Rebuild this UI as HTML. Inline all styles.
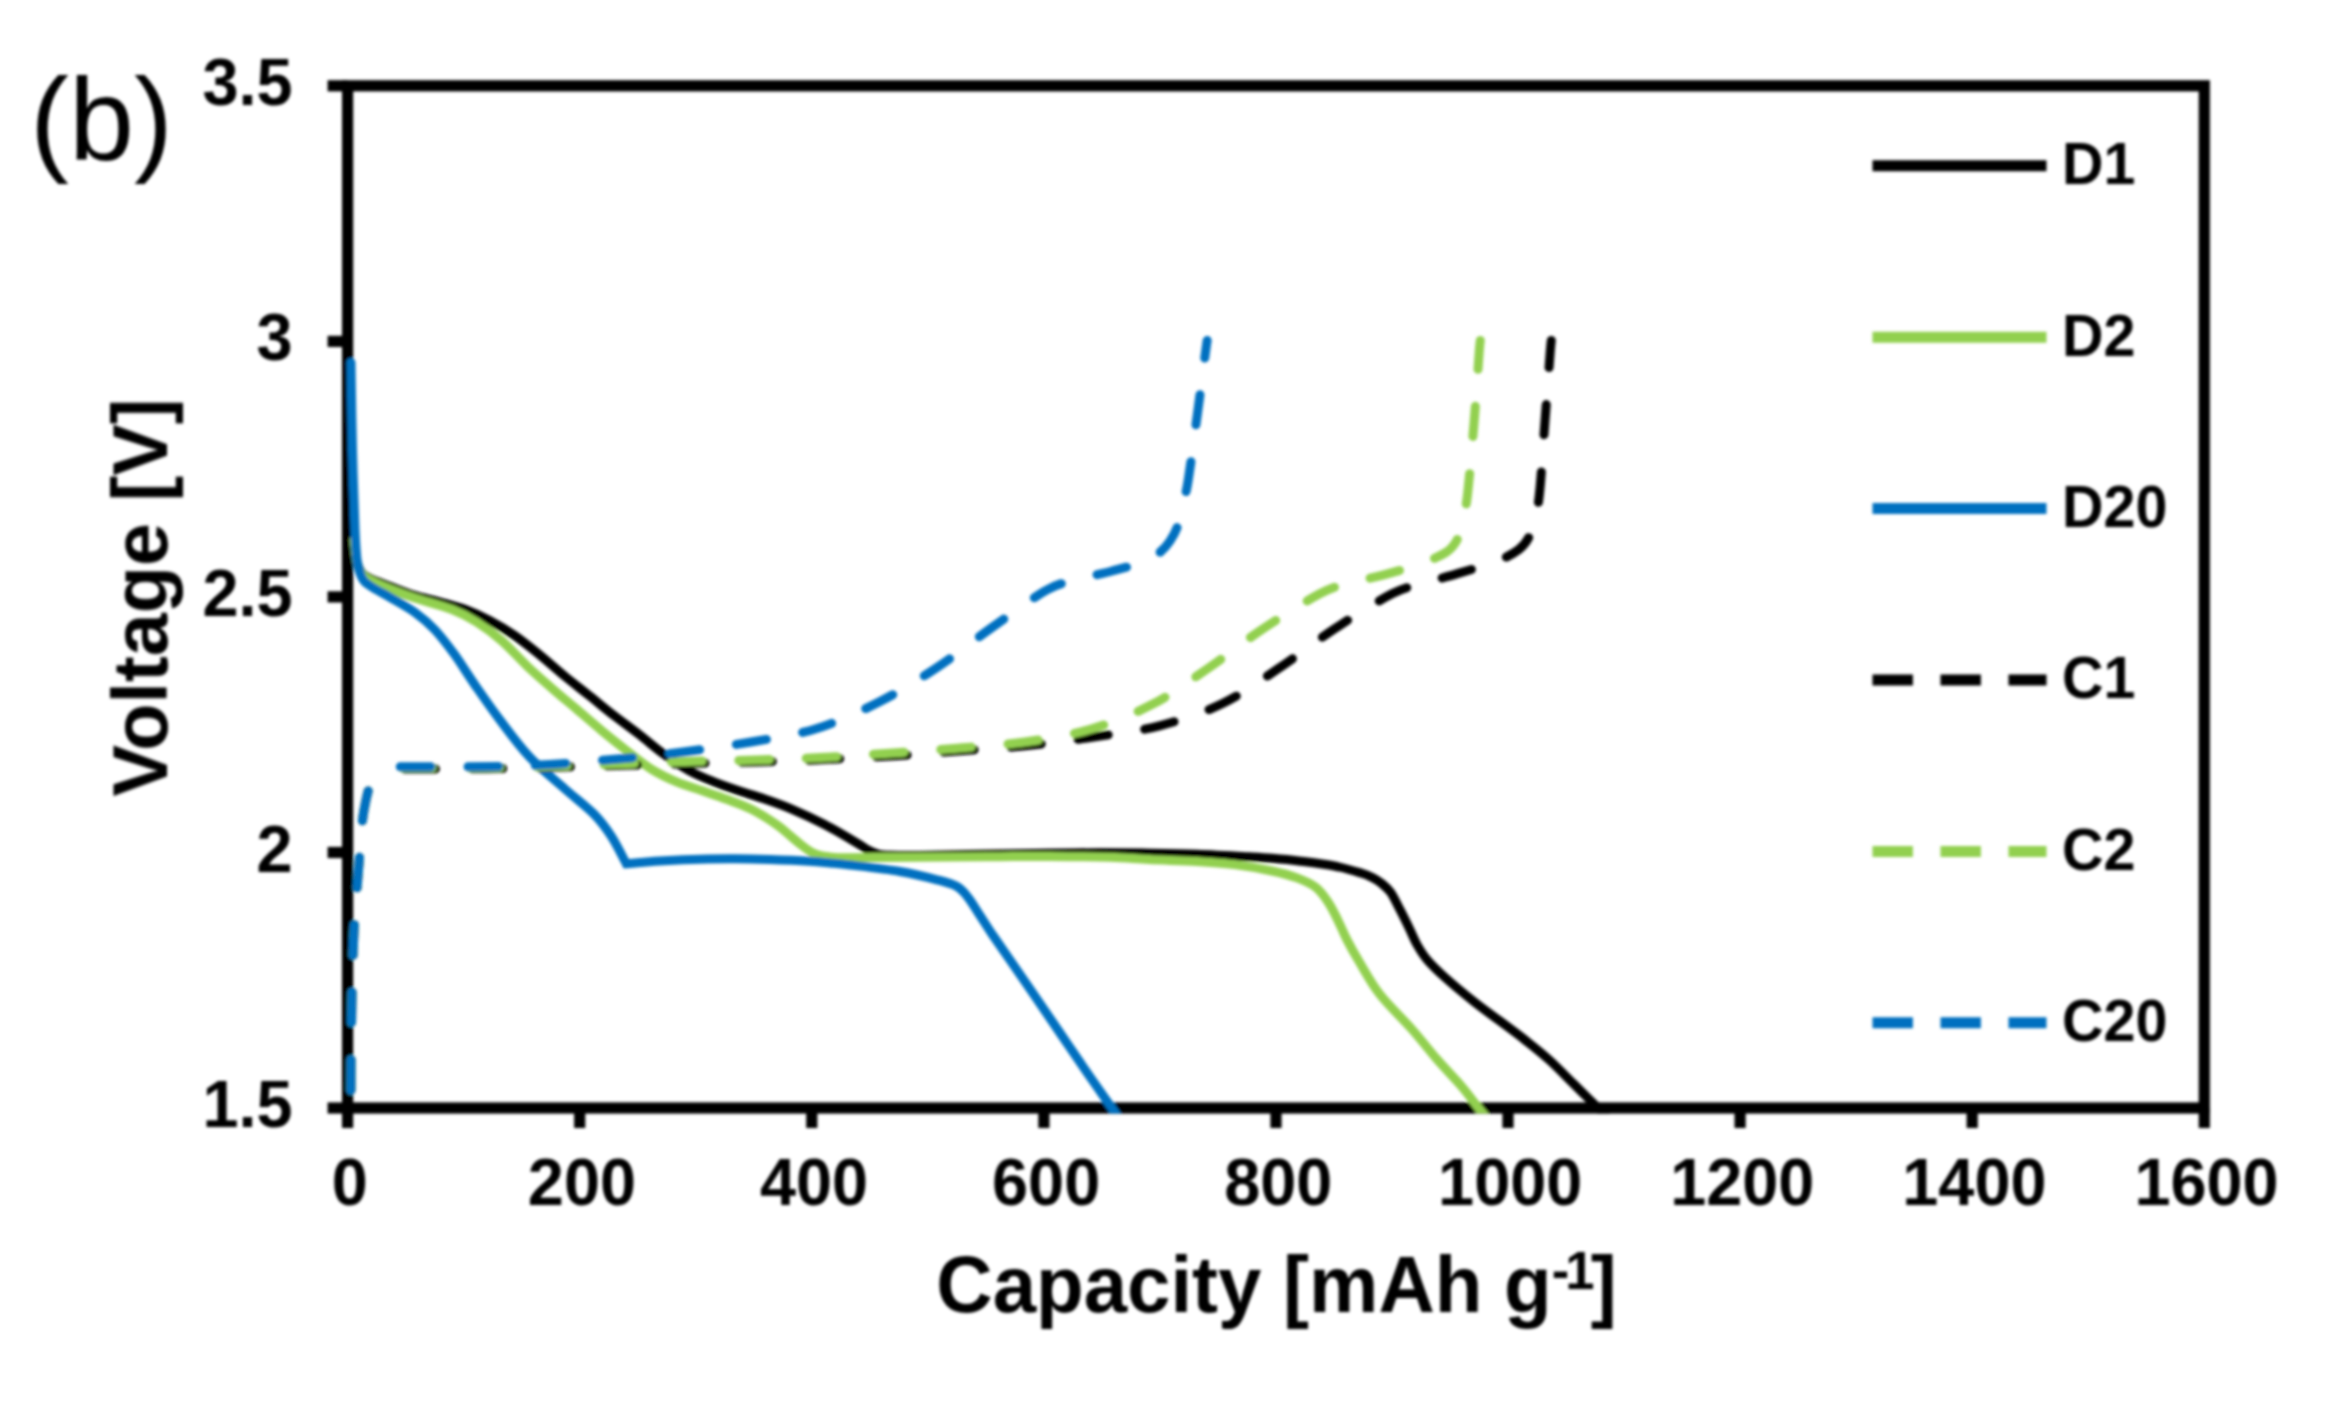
<!DOCTYPE html>
<html lang="en"><head><meta charset="utf-8"><title>Voltage vs capacity (b)</title>
<style>html,body{margin:0;padding:0;background:#fff}body{width:2326px;height:1406px;overflow:hidden}svg{display:block}text{font-family:"Liberation Sans",sans-serif;fill:#000}.b{font-weight:bold}</style></head><body>
<svg width="2326" height="1406" viewBox="0 0 2326 1406">
<defs><filter id="bl" x="-5%" y="-5%" width="110%" height="110%"><feGaussianBlur stdDeviation="1.6"/></filter><clipPath id="pc"><rect x="336" y="80" width="1880" height="1033.6"/></clipPath></defs>
<rect width="2326" height="1406" fill="#fff"/>
<g filter="url(#bl)">
<g stroke="#000" stroke-width="11.2" fill="none" stroke-linecap="butt">
<rect x="347.6" y="85.8" width="1856.7" height="1022.2"/>
<line x1="347.6" y1="1108.0" x2="347.6" y2="1128.0"/>
<line x1="579.7" y1="1108.0" x2="579.7" y2="1128.0"/>
<line x1="811.8" y1="1108.0" x2="811.8" y2="1128.0"/>
<line x1="1043.9" y1="1108.0" x2="1043.9" y2="1128.0"/>
<line x1="1276.0" y1="1108.0" x2="1276.0" y2="1128.0"/>
<line x1="1508.0" y1="1108.0" x2="1508.0" y2="1128.0"/>
<line x1="1740.1" y1="1108.0" x2="1740.1" y2="1128.0"/>
<line x1="1972.2" y1="1108.0" x2="1972.2" y2="1128.0"/>
<line x1="2204.3" y1="1108.0" x2="2204.3" y2="1128.0"/>
<line x1="327.6" y1="85.8" x2="347.6" y2="85.8"/>
<line x1="327.6" y1="341.4" x2="347.6" y2="341.4"/>
<line x1="327.6" y1="596.9" x2="347.6" y2="596.9"/>
<line x1="327.6" y1="852.5" x2="347.6" y2="852.5"/>
<line x1="327.6" y1="1108.0" x2="347.6" y2="1108.0"/>
</g>
<g fill="none" stroke-width="9.0" stroke-linejoin="round" stroke-linecap="round" clip-path="url(#pc)">
<path d="M354.0 540.0 C354.5 543.7 355.7 556.5 357.0 562.0 C358.3 567.5 359.8 570.2 362.0 573.0 C364.2 575.8 365.3 576.2 370.0 578.5 C374.7 580.8 382.5 583.6 390.0 586.5 C397.5 589.4 406.5 593.0 414.8 595.6 C423.1 598.2 431.7 599.7 440.0 602.0 C448.3 604.3 456.4 606.2 464.7 609.3 C473.0 612.4 481.3 616.1 489.6 620.5 C497.9 624.9 506.3 629.8 514.6 635.5 C522.9 641.2 531.2 648.0 539.5 654.7 C547.8 661.4 556.1 669.0 564.4 675.9 C572.7 682.8 581.1 689.1 589.4 695.8 C597.7 702.4 606.0 709.3 614.3 715.8 C622.6 722.2 630.9 728.1 639.2 734.5 C647.5 740.9 655.9 748.4 664.2 754.4 C672.5 760.4 680.7 766.0 689.0 770.6 C697.3 775.2 705.7 778.5 714.0 781.9 C722.3 785.3 730.7 788.0 739.0 790.8 C747.3 793.6 755.1 795.7 764.0 798.8 C772.9 801.9 782.1 805.0 792.2 809.3 C802.3 813.6 813.8 818.9 824.5 824.5 C835.2 830.1 849.5 838.6 856.7 842.9 C864.0 847.1 864.5 848.1 868.0 850.0 C871.5 851.9 874.3 853.1 878.0 854.0 C881.7 854.9 883.0 855.0 890.0 855.3 C897.0 855.5 907.2 855.6 920.0 855.5 C932.8 855.4 953.7 854.9 967.0 854.6 C980.3 854.4 986.3 854.2 1000.0 854.0 C1013.7 853.8 1032.3 853.4 1049.0 853.2 C1065.7 853.0 1083.3 852.8 1100.0 852.8 C1116.7 852.8 1132.8 853.0 1149.0 853.2 C1165.2 853.4 1180.3 853.6 1197.0 854.2 C1213.7 854.8 1236.4 856.1 1248.9 856.8 C1261.4 857.5 1263.7 857.6 1272.0 858.3 C1280.3 859.0 1288.4 859.7 1298.8 861.0 C1309.2 862.3 1324.0 864.0 1334.4 866.0 C1344.8 868.0 1354.8 871.1 1361.0 873.0 C1367.2 874.9 1368.5 875.6 1371.8 877.3 C1375.1 879.0 1377.9 880.5 1381.0 883.0 C1384.1 885.5 1387.3 887.8 1390.5 892.2 C1393.7 896.7 1396.8 903.6 1400.0 909.7 C1403.2 915.8 1406.8 923.2 1409.6 929.0 C1412.4 934.8 1414.1 939.5 1417.0 944.6 C1419.9 949.7 1422.4 954.2 1427.0 959.6 C1431.6 965.0 1436.6 969.9 1444.5 977.0 C1452.4 984.1 1465.2 994.7 1474.4 1002.0 C1483.6 1009.3 1491.1 1014.5 1499.4 1020.7 C1507.7 1026.9 1516.0 1032.9 1524.3 1039.4 C1532.6 1046.0 1541.0 1052.5 1549.3 1060.0 C1557.6 1067.5 1565.9 1076.3 1574.0 1084.3 C1582.1 1092.3 1592.0 1102.0 1598.0 1108.0 C1604.0 1114.0 1608.0 1118.0 1610.0 1120.0" stroke="#000"/>
<path d="M354.0 540.0 C354.5 543.8 355.7 557.3 357.0 563.0 C358.3 568.7 359.8 571.2 362.0 574.0 C364.2 576.8 365.3 577.5 370.0 580.0 C374.7 582.5 382.5 586.0 390.0 589.0 C397.5 592.0 404.5 594.6 414.8 598.0 C425.1 601.4 441.6 605.5 452.0 609.5 C462.4 613.5 468.7 617.0 477.0 622.2 C485.3 627.5 493.7 633.7 502.0 641.0 C510.3 648.3 518.7 658.0 527.0 665.9 C535.3 673.8 543.7 681.0 552.0 688.3 C560.3 695.6 568.7 702.4 577.0 709.5 C585.3 716.6 593.5 723.8 601.8 730.7 C610.1 737.6 618.5 744.2 626.8 750.7 C635.1 757.2 643.4 764.2 651.7 769.4 C660.0 774.6 668.3 778.4 676.6 781.9 C684.9 785.4 693.3 787.7 701.6 790.6 C709.9 793.5 718.2 796.2 726.5 799.3 C734.8 802.4 743.1 805.1 751.4 809.3 C759.7 813.5 770.0 820.1 776.4 824.5 C782.8 828.9 785.9 832.1 790.0 835.5 C794.1 838.9 797.7 842.2 801.3 845.0 C804.9 847.8 808.1 850.4 811.6 852.2 C815.1 854.0 818.1 855.1 822.0 856.0 C825.9 856.9 830.7 857.2 835.0 857.5 C839.3 857.8 841.4 857.8 848.0 857.8 C854.6 857.8 857.9 857.7 874.8 857.6 C891.7 857.5 928.7 857.1 949.6 857.0 C970.5 856.9 983.4 856.8 1000.0 856.7 C1016.6 856.6 1030.7 856.4 1049.0 856.5 C1067.3 856.6 1093.3 856.8 1110.0 857.3 C1126.7 857.8 1134.5 858.9 1149.0 859.6 C1163.5 860.3 1182.7 860.6 1197.0 861.4 C1211.3 862.2 1222.2 863.0 1234.7 864.6 C1247.2 866.2 1261.6 868.8 1272.0 871.0 C1282.4 873.2 1289.7 875.2 1297.0 877.9 C1304.3 880.6 1310.5 883.2 1315.7 887.3 C1320.9 891.3 1324.5 896.6 1328.2 902.2 C1332.0 907.8 1335.1 914.7 1338.2 920.9 C1341.3 927.1 1343.4 932.8 1346.9 939.6 C1350.4 946.5 1353.9 952.9 1359.4 962.0 C1364.9 971.1 1371.2 983.3 1380.0 994.5 C1388.8 1005.7 1402.5 1018.6 1412.0 1029.4 C1421.5 1040.2 1428.7 1049.7 1437.0 1059.3 C1445.3 1068.9 1455.1 1078.7 1462.0 1086.8 C1468.9 1094.9 1474.1 1102.5 1478.5 1108.0 C1482.9 1113.5 1486.8 1118.0 1488.4 1120.0" stroke="#92D050"/>
<path d="M351.0 362.5 C351.2 377.1 351.8 422.1 352.5 450.0 C353.2 477.9 354.2 511.7 355.0 530.0 C355.8 548.3 356.2 552.8 357.0 560.0 C357.8 567.2 358.7 569.3 360.0 573.0 C361.3 576.7 362.2 579.2 365.0 582.0 C367.8 584.8 372.8 587.5 377.0 590.0 C381.2 592.5 383.7 593.6 390.0 597.3 C396.3 601.0 407.3 606.9 414.8 612.3 C422.3 617.7 428.2 622.6 434.8 629.7 C441.4 636.8 448.1 645.6 454.7 654.7 C461.3 663.9 467.2 673.8 474.7 684.6 C482.2 695.4 490.5 707.5 499.6 719.5 C508.7 731.5 518.7 745.4 529.5 756.9 C540.3 768.4 553.6 778.9 564.4 788.5 C575.2 798.1 586.5 806.5 594.4 814.5 C602.2 822.5 606.2 828.3 611.5 836.5 C616.8 844.7 623.8 859.2 626.3 863.8 C628.6 863.6 633.7 863.0 640.0 862.5 C646.3 862.0 654.0 861.3 664.0 860.8 C674.0 860.2 688.2 859.5 700.0 859.2 C711.8 858.9 723.3 858.7 735.0 858.8 C746.7 858.9 757.6 859.2 770.0 859.6 C782.4 860.0 799.4 860.7 809.4 861.3 C819.4 861.9 823.2 862.4 830.0 863.0 C836.8 863.6 838.4 863.6 850.0 865.0 C861.6 866.4 885.3 869.0 899.8 871.5 C914.3 874.0 927.5 877.3 937.0 879.8 C946.5 882.3 951.8 883.6 957.0 886.5 C962.2 889.4 964.2 892.6 968.0 897.3 C971.8 902.0 975.4 908.5 979.5 914.7 C983.6 920.9 987.4 927.2 992.5 934.7 C997.6 942.2 1002.8 949.6 1010.0 960.0 C1017.2 970.4 1027.0 984.6 1035.5 997.0 C1044.0 1009.4 1052.5 1021.9 1061.0 1034.4 C1069.5 1046.9 1078.1 1059.6 1086.5 1071.8 C1094.9 1084.0 1105.9 1099.5 1111.5 1107.5 C1117.1 1115.5 1118.6 1117.9 1120.0 1120.0" stroke="#0070C0" stroke-linejoin="miter"/>
<path d="M351.0 1107.5 C351.0 1102.1 350.9 1091.9 351.0 1075.0 C351.1 1058.1 351.4 1028.5 351.8 1006.0 C352.2 983.5 352.8 959.2 353.6 940.0 C354.4 920.8 355.7 905.8 356.8 891.0 C357.9 876.2 359.1 862.7 360.0 851.0 C360.9 839.3 361.4 829.5 362.4 821.0 C363.4 812.5 364.7 806.2 366.0 800.0 C367.3 793.8 369.3 786.7 370.0 784.0" stroke="#000" stroke-dasharray="30.4 37" stroke-dashoffset="49.9"/>
<path d="M394.5 769.0 C398.8 769.0 402.4 769.0 420.0 768.9 C437.6 768.8 470.0 769.1 500.0 768.6 C530.0 768.1 566.7 766.9 600.0 766.0 C633.3 765.1 666.7 764.1 700.0 763.2 C733.3 762.3 766.7 761.8 800.0 760.5 C833.3 759.2 873.8 757.1 900.0 755.5 C926.2 753.9 936.2 752.6 957.0 751.0 C977.8 749.4 1002.0 748.0 1024.7 745.7 C1047.4 743.4 1070.8 740.3 1093.3 737.0 C1115.8 733.7 1137.8 731.4 1159.4 725.8 C1181.0 720.2 1202.8 713.1 1223.0 703.3 C1243.2 693.5 1261.6 679.7 1280.3 667.2 C1299.0 654.7 1316.3 640.8 1335.0 628.5 C1353.7 616.2 1377.5 601.2 1392.5 593.6 C1407.5 586.0 1414.2 586.3 1425.0 583.0 C1435.8 579.7 1445.7 577.1 1457.4 573.6 C1469.1 570.1 1484.7 566.0 1495.0 562.0 C1505.3 558.0 1513.2 553.9 1519.0 549.4 C1524.8 544.9 1527.2 540.7 1530.0 535.0 C1532.8 529.3 1534.3 522.8 1536.0 515.0 C1537.7 507.2 1538.5 504.0 1540.0 488.3 C1541.5 472.6 1543.3 443.2 1545.0 421.0 C1546.7 398.8 1549.0 368.3 1550.0 354.9 C1551.0 341.5 1551.1 342.9 1551.3 340.5" stroke="#000" stroke-dasharray="30.4 37" stroke-dashoffset="-10.5"/>
<path d="M351.0 1107.5 C351.0 1102.1 350.9 1091.9 351.0 1075.0 C351.1 1058.1 351.4 1028.5 351.8 1006.0 C352.2 983.5 352.8 959.2 353.6 940.0 C354.4 920.8 355.7 905.8 356.8 891.0 C357.9 876.2 359.1 862.7 360.0 851.0 C360.9 839.3 361.4 829.5 362.4 821.0 C363.4 812.5 364.7 806.2 366.0 800.0 C367.3 793.8 369.3 786.7 370.0 784.0" stroke="#92D050" stroke-dasharray="30.4 37" stroke-dashoffset="49.9"/>
<path d="M394.5 767.9 C398.8 767.9 402.4 767.8 420.0 767.8 C437.6 767.8 478.3 767.9 500.0 767.6 C521.7 767.4 533.3 766.8 550.0 766.3 C566.7 765.8 577.5 765.3 600.0 764.5 C622.5 763.7 659.3 762.2 685.0 761.5 C710.7 760.8 731.3 760.7 754.0 760.0 C776.7 759.3 798.5 758.6 821.0 757.5 C843.5 756.4 866.3 754.8 889.0 753.2 C911.7 751.7 934.8 750.1 957.4 748.2 C980.0 746.3 1002.7 745.1 1024.7 742.0 C1046.7 738.9 1068.3 735.7 1089.5 729.5 C1110.7 723.3 1132.2 714.8 1151.9 704.6 C1171.7 694.4 1189.7 680.9 1208.0 668.4 C1226.3 655.9 1242.9 642.2 1261.6 629.7 C1280.3 617.2 1305.5 601.4 1320.2 593.6 C1334.9 585.8 1339.4 586.1 1350.0 583.0 C1360.6 579.9 1372.1 578.1 1383.8 574.9 C1395.5 571.7 1409.6 567.8 1420.0 564.0 C1430.4 560.2 1439.8 556.4 1446.0 552.4 C1452.2 548.4 1454.2 545.4 1457.0 540.0 C1459.8 534.6 1461.2 528.0 1463.0 520.0 C1464.8 512.0 1466.0 508.1 1467.8 492.0 C1469.6 475.9 1472.1 446.2 1474.0 423.4 C1475.9 400.5 1478.0 368.7 1479.0 354.9 C1480.0 341.1 1480.1 342.9 1480.3 340.5" stroke="#92D050" stroke-dasharray="30.4 37" stroke-dashoffset="-7.5"/>
<path d="M351.0 1107.5 C351.0 1102.1 350.9 1091.9 351.0 1075.0 C351.1 1058.1 351.4 1028.5 351.8 1006.0 C352.2 983.5 352.8 959.2 353.6 940.0 C354.4 920.8 355.7 905.8 356.8 891.0 C357.9 876.2 359.1 862.7 360.0 851.0 C360.9 839.3 361.4 829.5 362.4 821.0 C363.4 812.5 364.7 806.2 366.0 800.0 C367.3 793.8 369.3 786.7 370.0 784.0" stroke="#0070C0" stroke-dasharray="30.4 37" stroke-dashoffset="49.9"/>
<path d="M394.5 766.8 C398.8 766.8 402.4 766.8 420.0 766.8 C437.6 766.8 478.3 766.9 500.0 766.5 C521.7 766.1 533.3 765.5 550.0 764.5 C566.7 763.5 585.0 761.8 600.0 760.5 C615.0 759.2 626.2 758.4 640.0 757.0 C653.8 755.6 664.5 754.5 683.0 752.0 C701.5 749.5 728.8 745.9 751.0 742.0 C773.2 738.1 794.5 735.5 816.0 728.8 C837.5 722.0 859.8 711.8 880.0 701.5 C900.2 691.2 918.7 679.6 937.4 667.2 C956.1 654.8 974.0 640.2 992.3 627.3 C1010.6 614.4 1032.4 597.9 1047.0 589.9 C1061.6 581.9 1069.2 582.1 1080.0 579.0 C1090.8 575.9 1102.0 573.7 1112.0 571.0 C1122.0 568.3 1132.2 566.0 1140.0 563.0 C1147.8 560.0 1154.0 556.7 1159.0 553.0 C1164.0 549.3 1166.8 545.7 1170.0 541.0 C1173.2 536.3 1175.7 531.8 1178.0 525.0 C1180.3 518.2 1182.2 507.8 1184.0 500.0 C1185.8 492.2 1186.2 493.1 1188.5 478.3 C1190.8 463.5 1194.9 432.6 1197.8 411.0 C1200.7 389.4 1204.4 360.4 1206.0 348.6 C1207.6 336.9 1207.0 341.9 1207.2 340.5" stroke="#0070C0" stroke-dasharray="30.4 37" stroke-dashoffset="-6"/>
</g>
<g fill="none" stroke-width="11.0">
<line x1="1872.5" y1="165.8" x2="2046.5" y2="165.8" stroke="#000"/>
<line x1="1872.5" y1="337.2" x2="2046.5" y2="337.2" stroke="#92D050"/>
<line x1="1872.5" y1="508.6" x2="2046.5" y2="508.6" stroke="#0070C0"/>
<line x1="1872.5" y1="680.0" x2="2046.5" y2="680.0" stroke="#000" stroke-dasharray="40.4 27.6"/>
<line x1="1872.5" y1="851.4" x2="2046.5" y2="851.4" stroke="#92D050" stroke-dasharray="40.4 27.6"/>
<line x1="1872.5" y1="1022.8" x2="2046.5" y2="1022.8" stroke="#0070C0" stroke-dasharray="40.4 27.6"/>
</g>
<g class="b" font-size="59.5">
<text transform="translate(2062 184.1) scale(0.965 1)">D1</text>
<text transform="translate(2062 355.5) scale(0.965 1)">D2</text>
<text transform="translate(2062 526.9) scale(0.965 1)">D20</text>
<text transform="translate(2062 698.3) scale(0.965 1)">C1</text>
<text transform="translate(2062 869.7) scale(0.965 1)">C2</text>
<text transform="translate(2062 1041.1) scale(0.965 1)">C20</text>
</g>
<g class="b" font-size="66.5" text-anchor="middle">
<text transform="translate(349.8 1205) scale(0.975 1)">0</text>
<text transform="translate(581.9 1205) scale(0.975 1)">200</text>
<text transform="translate(814.0 1205) scale(0.975 1)">400</text>
<text transform="translate(1046.1 1205) scale(0.975 1)">600</text>
<text transform="translate(1278.2 1205) scale(0.975 1)">800</text>
<text transform="translate(1510.2 1205) scale(0.975 1)">1000</text>
<text transform="translate(1742.3 1205) scale(0.975 1)">1200</text>
<text transform="translate(1974.4 1205) scale(0.975 1)">1400</text>
<text transform="translate(2206.5 1205) scale(0.975 1)">1600</text>
</g>
<g class="b" font-size="66.5" text-anchor="end">
<text transform="translate(292.5 104.8) scale(0.975 1)">3.5</text>
<text transform="translate(292.5 360.4) scale(0.975 1)">3</text>
<text transform="translate(292.5 615.9) scale(0.975 1)">2.5</text>
<text transform="translate(292.5 871.5) scale(0.975 1)">2</text>
<text transform="translate(292.5 1127.0) scale(0.975 1)">1.5</text>
</g>
<text class="b" font-size="80" text-anchor="middle" transform="translate(1276.5 1311.5) scale(0.975 1)">Capacity [mAh g<tspan font-size="54" dy="-22.5" letter-spacing="-4">-1</tspan><tspan dy="22.5">]</tspan></text>
<text class="b" font-size="77.3" text-anchor="middle" transform="translate(167 597.5) rotate(-90)">Voltage [V]</text>
<text font-size="117" x="30" y="160">(b)</text>
</g>
</svg></body></html>
